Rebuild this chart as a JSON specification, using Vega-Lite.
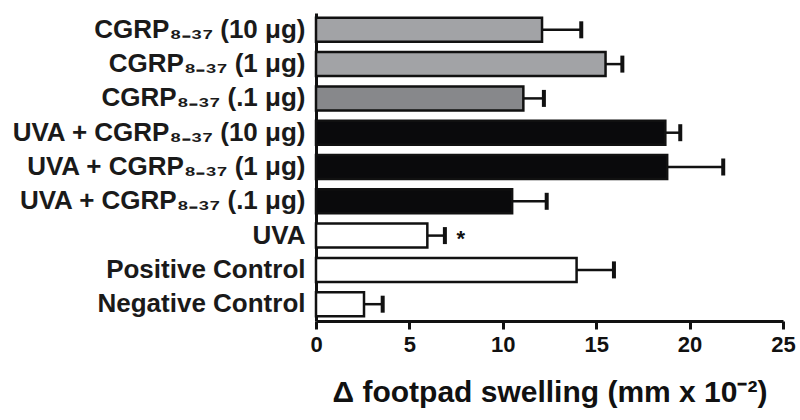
{
  "$schema": "https://vega.github.io/schema/vega-lite/v6.json",
  "autosize": "none",
  "width": 467,
  "height": 308,
  "padding": {"left": 316, "top": 13, "right": 17, "bottom": 99},
  "background": "white",
  "config": {"view": {"stroke": null}, "font": "Liberation Sans"},
  "data": {"values": [
    {"label": "CGRP₈₋₃₇ (10 μg)", "group": "CGRP high", "value": 12.1, "err": 14.2, "sig": ""},
    {"label": "CGRP₈₋₃₇ (1 μg)", "group": "CGRP high", "value": 15.5, "err": 16.4, "sig": ""},
    {"label": "CGRP₈₋₃₇ (.1 μg)", "group": "CGRP low", "value": 11.1, "err": 12.2, "sig": ""},
    {"label": "UVA + CGRP₈₋₃₇ (10 μg)", "group": "UVA + CGRP", "value": 18.7, "err": 19.5, "sig": ""},
    {"label": "UVA + CGRP₈₋₃₇ (1 μg)", "group": "UVA + CGRP", "value": 18.8, "err": 21.8, "sig": ""},
    {"label": "UVA + CGRP₈₋₃₇ (.1 μg)", "group": "UVA + CGRP", "value": 10.5, "err": 12.35, "sig": ""},
    {"label": "UVA", "group": "Control", "value": 5.96, "err": 6.9, "sig": "*"},
    {"label": "Positive Control", "group": "Control", "value": 13.95, "err": 15.95, "sig": ""},
    {"label": "Negative Control", "group": "Control", "value": 2.57, "err": 3.57, "sig": ""}
  ]},
  "encoding": {
    "y": {
      "field": "label", "type": "nominal", "sort": null,
      "scale": {"paddingInner": 0.3, "paddingOuter": 0.14},
      "axis": {
        "title": null, "ticks": false, "domainWidth": 3, "domainColor": "#111",
        "labelFontSize": 26, "labelFontWeight": "bold", "labelColor": "#1a1a1a",
        "labelPadding": 11, "labelFont": "Liberation Sans", "labelLimit": 320
      }
    }
  },
  "layer": [
    {
      "mark": {"type": "rule", "strokeWidth": 2.5, "color": "#111"},
      "encoding": {
        "x": {"field": "value", "type": "quantitative"},
        "x2": {"field": "err"}
      }
    },
    {
      "mark": {"type": "bar", "stroke": "#111", "strokeWidth": 2.5},
      "encoding": {
        "x": {
          "field": "value", "type": "quantitative",
          "scale": {"domain": [0, 25], "nice": false},
          "axis": {
            "values": [0, 5, 10, 15, 20, 25],
            "title": "Δ footpad swelling (mm x 10⁻²)",
            "titleFontSize": 30, "titleFontWeight": "bold", "titleColor": "#111",
            "titlePadding": 22, "titleFont": "Liberation Sans",
            "domainWidth": 3, "domainColor": "#111",
            "tickWidth": 3, "tickSize": 8, "tickColor": "#111",
            "labelFontSize": 22, "labelFontWeight": "bold", "labelColor": "#111",
            "labelPadding": 5, "grid": false, "labelFlush": false
          }
        },
        "fill": {
          "field": "group", "type": "nominal", "legend": null,
          "scale": {
            "domain": ["CGRP high", "CGRP low", "UVA + CGRP", "Control"],
            "range": ["#a2a3a6", "#87888b", "#0a0a0c", "#ffffff"]
          }
        }
      }
    },
    {
      "mark": {"type": "tick", "thickness": 4, "size": 17, "color": "#111", "opacity": 1},
      "encoding": {
        "x": {"field": "err", "type": "quantitative"}
      }
    },
    {
      "mark": {"type": "text", "dx": 16, "dy": 3, "fontSize": 22, "fontWeight": "bold", "color": "#111", "align": "center"},
      "encoding": {
        "x": {"field": "err", "type": "quantitative"},
        "text": {"field": "sig"}
      }
    }
  ]
}
